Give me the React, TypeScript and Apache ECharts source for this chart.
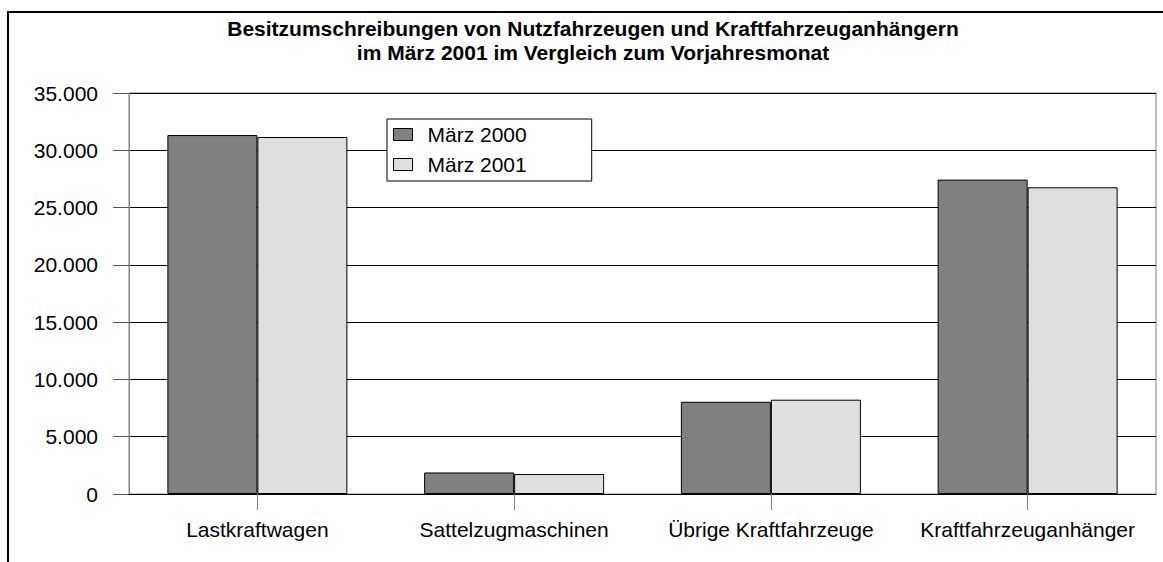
import React, { useEffect, useRef } from "react";
import * as echarts from "echarts";

const categories = [
  "Lastkraftwagen",
  "Sattelzugmaschinen",
  "Übrige Kraftfahrzeuge",
  "Kraftfahrzeuganhänger",
];
const seriesNames = ["März 2000", "März 2001"];
const values2000 = [31330, 1880, 8050, 27440];
const values2001 = [31160, 1750, 8230, 26770];
const titleLines = [
  "Besitzumschreibungen von Nutzfahrzeugen und Kraftfahrzeuganhängern",
  "im März 2001 im Vergleich zum Vorjahresmonat",
];

const FONT = "'Liberation Sans', Arial, sans-serif";

function fmt(v: number): string {
  return String(Math.round(v)).replace(/\B(?=(\d{3})+(?!\d))/g, ".");
}

export default function App() {
  const ref = useRef<HTMLDivElement>(null);
  useEffect(() => {
    if (!ref.current) return;
    const chart = echarts.init(ref.current, undefined, { renderer: "svg" });
    chart.setOption({
      animation: false,
      backgroundColor: "#ffffff",
      textStyle: { fontFamily: FONT },
      graphic: [
        {
          type: "polyline",
          shape: { points: [[8, 600], [8, 12], [1200, 12]] },
          style: { stroke: "#000", lineWidth: 2, fill: "none" },
          silent: true,
        },
        {
          type: "text",
          x: 593,
          y: 28,
          style: {
            text: titleLines[0],
            fontFamily: FONT,
            fontSize: 21,
            fontWeight: "bold",
            fill: "#000",
            align: "center",
            verticalAlign: "middle",
          },
        },
        {
          type: "text",
          x: 593,
          y: 52,
          style: {
            text: titleLines[1],
            fontFamily: FONT,
            fontSize: 21,
            fontWeight: "bold",
            fill: "#000",
            align: "center",
            verticalAlign: "middle",
          },
        },
      ],
      grid: {
        left: 129,
        right: 7,
        top: 93,
        bottom: 68,
        show: true,
        borderColor: "#808080",
        borderWidth: 1,
        backgroundColor: "transparent",
      },
      legend: {
        left: 387,
        top: 119,
        orient: "vertical",
        padding: [5, 65, 6, 6],
        itemGap: 9,
        itemWidth: 19,
        itemHeight: 12,
        icon: "rect",
        backgroundColor: "#fff",
        borderColor: "#000",
        borderWidth: 1,
        itemStyle: { borderColor: "#000", borderWidth: 1 },
        textStyle: {
          fontFamily: FONT,
          fontSize: 21,
          color: "#000",
          padding: [0, 0, 0, 10],
        },
        data: seriesNames,
      },
      xAxis: {
        type: "category",
        data: categories,
        axisLine: { lineStyle: { color: "#000", width: 1 } },
        axisTick: {
          show: true,
          interval: 0,
          alignWithLabel: true,
          length: 16,
          lineStyle: { color: "#808080" },
        },
        axisLabel: {
          interval: 0,
          hideOverlap: false,
          margin: 25,
          fontFamily: FONT,
          fontSize: 21,
          color: "#000",
        },
        splitLine: { show: false },
      },
      yAxis: {
        type: "value",
        min: 0,
        max: 35000,
        interval: 5000,
        axisLine: { show: true, lineStyle: { color: "#808080", width: 1 } },
        axisTick: { show: true, length: 16, lineStyle: { color: "#555" } },
        axisLabel: {
          margin: 31,
          fontFamily: FONT,
          fontSize: 21,
          color: "#000",
          formatter: (v: number) => fmt(v),
        },
        splitLine: { show: true, lineStyle: { color: "#000", width: 1 } },
      },
      series: [
        {
          name: seriesNames[0],
          type: "bar",
          data: values2000,
          barWidth: 90,
          barGap: "0%",
          itemStyle: { color: "#808080", borderColor: "#000", borderWidth: 1 },
        },
        {
          name: seriesNames[1],
          type: "bar",
          data: values2001,
          barWidth: 90,
          barGap: "0%",
          itemStyle: { color: "#dfdfdf", borderColor: "#000", borderWidth: 1 },
        },
      ],
    });
    return () => chart.dispose();
  }, []);
  return (
    <div
      ref={ref}
      style={{
        position: "fixed",
        left: 0,
        top: 0,
        width: 1163,
        height: 562,
        background: "#fff",
      }}
    />
  );
}
